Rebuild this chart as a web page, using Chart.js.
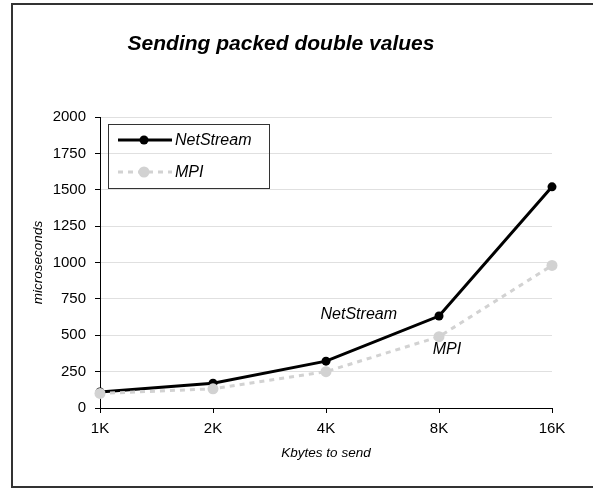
<!DOCTYPE html>
<html>
<head>
<meta charset="utf-8">
<script src="https://cdn.jsdelivr.net/npm/chart.js@4/dist/chart.umd.min.js"></script>
<style>
html,body{margin:0;padding:0;background:#fff;}
canvas{display:block;}
</style>
</head>
<body>
<canvas id="c" width="593" height="488"></canvas>
<script>
const categories = ['1K', '2K', '4K', '8K', '16K'];
const netStream = [110, 170, 322, 632, 1520];
const mpi = [100, 132, 250, 490, 980];
const chartTitle = 'Sending packed double values';
const xTitle = 'Kbytes to send';
const yTitle = 'microseconds';
const seriesNames = ['NetStream', 'MPI'];
// in-plot labels: [text, category index position, value]
const inPlotLabels = [['NetStream', 2.29, 639], ['MPI', 3.07, 405]];

const FONT = '"Liberation Sans", Arial, sans-serif';
const BLACK = '#000000';
const GREY = '#d2d2d2';

const framePlugin = {
  id: 'frame',
  afterDraw(chart) {
    const ctx = chart.ctx;
    ctx.save();
    ctx.strokeStyle = '#333333';
    ctx.lineWidth = 2;
    ctx.strokeRect(12, 4, 620, 483);
    ctx.fillStyle = '#000';
    ctx.font = 'italic bold 21px ' + FONT;
    ctx.textAlign = 'center';
    ctx.textBaseline = 'middle';
    ctx.fillText(chartTitle, 281, 44);
    const xs = chart.scales.x, ys = chart.scales.y;
    ctx.font = 'italic 16px ' + FONT;
    inPlotLabels.forEach(([t, xi, yv]) => {
      ctx.fillText(t, xs.getPixelForValue(xi), ys.getPixelForValue(yv));
    });
    const lx = 108.5, ly = 124.5, lw = 161, lh = 64;
    ctx.strokeStyle = '#333';
    ctx.lineWidth = 1;
    ctx.strokeRect(lx, ly, lw, lh);
    const rows = [
      {name: seriesNames[0], y: 140, color: BLACK, dash: [], r: 4.5},
      {name: seriesNames[1], y: 172, color: GREY, dash: [5, 5], r: 5.5}
    ];
    rows.forEach(row => {
      ctx.strokeStyle = row.color;
      ctx.lineWidth = 3;
      ctx.setLineDash(row.dash);
      ctx.beginPath();
      ctx.moveTo(118, row.y);
      ctx.lineTo(172, row.y);
      ctx.stroke();
      ctx.setLineDash([]);
      ctx.fillStyle = row.color;
      ctx.beginPath();
      ctx.arc(144, row.y, row.r, 0, Math.PI * 2);
      ctx.fill();
      ctx.fillStyle = '#000';
      ctx.font = 'italic 16px ' + FONT;
      ctx.textAlign = 'left';
      ctx.textBaseline = 'middle';
      ctx.fillText(row.name, 175, row.y + 1);
    });
    ctx.restore();
  }
};

new Chart(document.getElementById('c'), {
  type: 'line',
  data: {
    labels: categories,
    datasets: [
      {
        label: seriesNames[1],
        data: mpi,
        borderColor: GREY,
        backgroundColor: GREY,
        borderWidth: 3,
        borderDash: [5, 5],
        pointRadius: 5.5,
        pointBorderWidth: 0,
        pointBackgroundColor: GREY,
        tension: 0,
        clip: false
      },
      {
        label: seriesNames[0],
        data: netStream,
        borderColor: BLACK,
        backgroundColor: BLACK,
        borderWidth: 3,
        pointRadius: 4.5,
        pointBorderWidth: 0,
        pointBackgroundColor: BLACK,
        tension: 0,
        clip: false
      }
    ]
  },
  options: {
    responsive: false,
    animation: false,
    devicePixelRatio: 1,
    layout: {padding: {top: 117, left: 0, right: 41, bottom: 0}},
    plugins: {
      legend: {display: false},
      title: {display: false},
      tooltip: {enabled: false}
    },
    scales: {
      x: {
        offset: false,
        afterFit(s) { s.height = 80; },
        grid: {drawOnChartArea: false, drawTicks: true, tickLength: 5, tickColor: '#000', tickWidth: 1},
        border: {color: '#000', width: 1},
        ticks: {color: '#000', font: {family: FONT, size: 15}, padding: 7, maxRotation: 0},
        title: {display: true, text: xTitle, color: '#000', font: {family: FONT, size: 13.5, style: 'italic'}, padding: {top: 0, bottom: 27}}
      },
      y: {
        min: 0, max: 2000,
        afterFit(s) { s.width = 100; },
        ticks: {stepSize: 250, color: '#000', font: {family: FONT, size: 15}, padding: 9, callback: v => String(v)},
        grid: {color: '#e0e0e0', lineWidth: 1, drawTicks: true, tickLength: 5, tickColor: '#000'},
        border: {color: '#000', width: 1},
        title: {display: true, text: yTitle, color: '#000', font: {family: FONT, size: 13.5, style: 'italic'}, padding: {top: 30, bottom: 0}}
      }
    }
  },
  plugins: [framePlugin]
});
</script>
</body>
</html>
